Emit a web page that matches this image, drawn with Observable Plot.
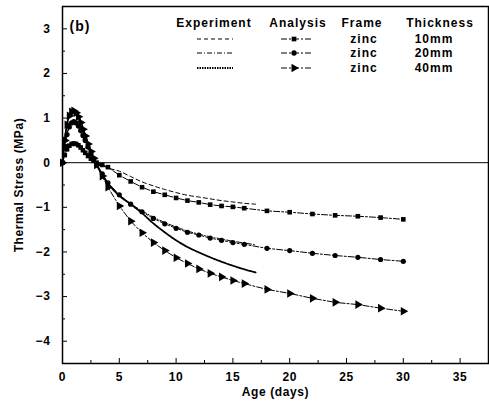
<!DOCTYPE html>
<html><head><meta charset="utf-8">
<script src="https://cdn.jsdelivr.net/npm/d3@7"></script>
<script src="https://cdn.jsdelivr.net/npm/@observablehq/plot@0.6"></script>
<style>body{margin:0;background:#fff}</style>
</head><body><div id="chart"></div>
<script>
// Analysis (markers)
const daysA = [0,0.2,0.4,0.6,0.8,1.0,1.2,1.4,1.6,1.8,2.0,2.25,2.5,2.75,3.0,3.5,4,5,6,7,8,9,10,11,12,13,14,15,16,18,20,22,24,26,28,30];
const ana10 = [0,0.17,0.3,0.38,0.42,0.43,0.42,0.39,0.34,0.28,0.22,0.15,0.09,0.04,0.0,-0.05,-0.1,-0.28,-0.42,-0.55,-0.65,-0.72,-0.79,-0.85,-0.89,-0.94,-0.97,-0.99,-1.02,-1.08,-1.11,-1.15,-1.18,-1.2,-1.23,-1.27];
const ana20 = [0,0.38,0.63,0.8,0.89,0.92,0.89,0.82,0.72,0.61,0.5,0.35,0.2,0.08,-0.03,-0.25,-0.45,-0.72,-0.93,-1.1,-1.25,-1.37,-1.47,-1.56,-1.62,-1.69,-1.74,-1.79,-1.83,-1.92,-1.97,-2.03,-2.08,-2.12,-2.17,-2.21];
const ana40 = [0,0.5,0.85,1.05,1.14,1.16,1.12,1.03,0.9,0.75,0.6,0.42,0.25,0.1,-0.05,-0.3,-0.55,-0.97,-1.31,-1.57,-1.79,-1.97,-2.13,-2.26,-2.38,-2.48,-2.56,-2.64,-2.71,-2.84,-2.93,-3.04,-3.13,-3.18,-3.26,-3.33];
// Experiment (lines)
const daysE = [0,0.25,0.5,0.75,1,1.25,1.5,2,2.5,3,3.5,4,5,6,7,8,9,10,11,12,13,14,15,16,17];
const exp10 = [0,0.22,0.36,0.43,0.45,0.44,0.4,0.26,0.12,0.02,-0.06,-0.12,-0.19,-0.31,-0.43,-0.52,-0.6,-0.67,-0.73,-0.77,-0.81,-0.85,-0.88,-0.91,-0.93];
const exp20 = [0,0.5,0.75,0.88,0.93,0.9,0.82,0.52,0.22,-0.02,-0.25,-0.45,-0.72,-0.92,-1.08,-1.22,-1.34,-1.44,-1.53,-1.6,-1.66,-1.71,-1.76,-1.8,-1.84];
const exp40 = [0,0.62,0.98,1.13,1.17,1.12,1.0,0.62,0.26,-0.04,-0.28,-0.47,-0.74,-0.93,-1.13,-1.36,-1.56,-1.74,-1.89,-2.01,-2.12,-2.22,-2.31,-2.39,-2.46];
const thickness = ["10mm","20mm","40mm"];
const frameName = "zinc";
const xTicks = [0,5,10,15,20,25,30,35];
const xMinor = [2.5,7.5,12.5,17.5,22.5,27.5,32.5];
const yTicks = [-4,-3,-2,-1,0,1,2,3];
const yMinor = [-3.5,-2.5,-1.5,-0.5,0.5,1.5,2.5];

const ana = [ana10, ana20, ana40].flatMap((v,k)=>v.map((y,i)=>({x:daysA[i], y, s:thickness[k]})));
const exp = [exp10, exp20, exp40].flatMap((v,k)=>v.map((y,i)=>({x:daysE[i], y, s:thickness[k]})));
const sym = {"10mm":"square","20mm":"circle","40mm":"triangle"};
const anaDash = "6,2,2,2";
const expDash = {"10mm":"4,3","20mm":"5,2,1,2","40mm":"1.5,1"};
const expW = {"10mm":1,"20mm":1,"40mm":1.8};

const marks = [
  Plot.frame({stroke:"black", strokeWidth:1.5}),
  Plot.ruleY([0], {stroke:"black", strokeWidth:1}),
  Plot.axisX(xTicks, {tickSize:0, tickPadding:9, fill:"black", label:"Age (days)", labelAnchor:"center", labelOffset:32, labelArrow:"none"}),
  Plot.axisX(xTicks, {text:null, tickSize:-5, label:null}),
  Plot.axisX(xMinor, {text:null, tickSize:-3, label:null}),
  Plot.axisY(yTicks, {tickSize:0, tickPadding:12, fill:"black", label:"Thermal Stress (MPa)", labelAnchor:"center", labelOffset:48, labelArrow:"none"}),
  Plot.axisY(yTicks, {text:null, tickSize:-5, label:null}),
  Plot.axisY(yMinor, {text:null, tickSize:-3, label:null}),
];
for (const t of thickness) {
  marks.push(Plot.line(exp.filter(d=>d.s===t), {x:"x", y:"y", stroke:"black", strokeWidth:expW[t], strokeDasharray:expDash[t], curve:"catmull-rom"}));
  marks.push(Plot.line(ana.filter(d=>d.s===t), {x:"x", y:"y", stroke:"black", strokeWidth:1, strokeDasharray:anaDash}));
  marks.push(Plot.dot(ana.filter(d=>d.s===t), {x:"x", y:"y", symbol:sym[t], fill:"black", stroke:"none", r: t==="40mm"?3.2:2.6, rotate: t==="40mm"?90:0}));
}

const svg = Plot.plot({
  width:489, height:409,
  marginLeft:62, marginRight:1, marginTop:6, marginBottom:46,
  x:{domain:[0,37.5]}, y:{domain:[-4.5,3.5]},
  style:{fontFamily:"'Liberation Sans', Arial, sans-serif", fontWeight:"bold", fontSize:"12px", background:"white", color:"black", letterSpacing:"0.6px"},
  marks
});
document.getElementById("chart").appendChild(svg);

// In-plot annotation & legend
const g = d3.select(svg).append("g").attr("font-family","'Liberation Sans', Arial, sans-serif").attr("font-weight","bold").attr("fill","black");
g.append("text").attr("x",80).attr("y",31).attr("font-size","14px").attr("letter-spacing","1px").text("(b)");
const hdr = [["Experiment",214],["Analysis",298],["Frame",362],["Thickness",440]];
hdr.forEach(([t,x])=>g.append("text").attr("x",x).attr("y",23).attr("dy","0.35em").attr("text-anchor","middle").attr("font-size","12px").attr("letter-spacing","1px").text(t));
const rowY = [39,53,68];
thickness.forEach((t,i)=>{
  const y = rowY[i];
  g.append("line").attr("x1",197).attr("x2",233).attr("y1",y).attr("y2",y).attr("stroke","black").attr("stroke-width",expW[t]).attr("stroke-dasharray",expDash[t]);
  g.append("line").attr("x1",281).attr("x2",313).attr("y1",y).attr("y2",y).attr("stroke","black").attr("stroke-width",1).attr("stroke-dasharray",anaDash);
  const s = d3.symbol().type(t==="10mm"?d3.symbolSquare:t==="20mm"?d3.symbolCircle:d3.symbolTriangle).size(t==="40mm"?32:22);
  g.append("path").attr("d",s()).attr("transform",`translate(294,${y}) rotate(${t==="40mm"?90:0})`).attr("fill","black");
  g.append("text").attr("x",364).attr("y",y).attr("dy","0.35em").attr("text-anchor","middle").attr("font-size","12px").attr("letter-spacing","1px").text(frameName);
  g.append("text").attr("x",434).attr("y",y).attr("dy","0.35em").attr("text-anchor","middle").attr("font-size","12px").attr("letter-spacing","1px").text(t);
});
</script></body></html>
